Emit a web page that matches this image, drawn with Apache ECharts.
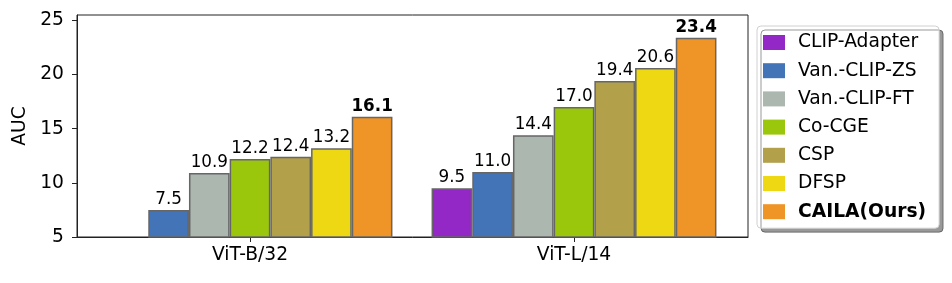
<!DOCTYPE html>
<html><head><meta charset="utf-8">
<script src="https://cdn.jsdelivr.net/npm/echarts@6/dist/echarts.min.js"></script>
<style>html,body{margin:0;padding:0;background:#fff}#c{width:952px;height:283px}</style>
</head><body><div id="c"></div>
<script>
const categories = ['ViT-B/32', 'ViT-L/14'];
const methods = ['CLIP-Adapter', 'Van.-CLIP-ZS', 'Van.-CLIP-FT', 'Co-CGE', 'CSP', 'DFSP', 'CAILA(Ours)'];
const vitB32 = [null, 7.5, 10.9, 12.2, 12.4, 13.2, 16.1];
const vitL14 = [9.5, 11.0, 14.4, 17.0, 19.4, 20.6, 23.4];
const yTicks = [5, 10, 15, 20, 25];
const colors = ['#9428C7', '#4374B7', '#ABB7AF', '#9AC70B', '#B2A04B', '#EDD813', '#EF9426'];

const FONT = 'DejaVu Sans';
const FS = 18.7;
const chart = echarts.init(document.getElementById('c'), null, {renderer: 'canvas'});
const series = methods.map((m, i) => {
  const bold = m === 'CAILA(Ours)';
  return {
    name: m,
    type: 'bar',
    barWidth: 40.7,
    barGap: '0%',
    data: [[0, vitB32[i]], [1, vitL14[i]]].filter(d => d[1] !== null),
    itemStyle: {color: colors[i], borderColor: '#666', borderWidth: 1.5},
    label: {
      show: true, position: 'top', distance: 2,
      fontFamily: FONT, fontSize: 16.8, color: '#000',
      fontWeight: bold ? 'bold' : 'normal',
      formatter: p => p.value[1].toFixed(1)
    }
  };
});
chart.setOption({
  animation: false,
  textStyle: {fontFamily: FONT},
  grid: {left: 77, right: 204, top: 15, bottom: 46, show: true, borderColor: '#222', borderWidth: 1, backgroundColor: 'transparent'},
  xAxis: {
    type: 'value', min: -0.534, max: 1.537,
    splitLine: {show: false},
    axisLine: {show: true, onZero: false, lineStyle: {color: '#222'}},
    axisTick: {show: true, length: 5, customValues: [0, 1], lineStyle: {color: '#222'}},
    axisLabel: {customValues: [0, 1], margin: 9, fontFamily: FONT, fontSize: FS, color: '#000', formatter: v => categories[Math.round(v)]}
  },
  yAxis: {
    type: 'value', min: 5, max: 25.5,
    name: 'AUC', nameLocation: 'middle', nameGap: 40, nameRotate: 90,
    nameTextStyle: {fontFamily: FONT, fontSize: FS, color: '#000'},
    splitLine: {show: false},
    axisLine: {show: true, onZero: false, lineStyle: {color: '#222'}},
    axisTick: {show: true, length: 5, customValues: yTicks, lineStyle: {color: '#222'}},
    axisLabel: {customValues: yTicks, margin: 13, fontFamily: FONT, fontSize: FS, color: '#000'}
  },
  legend: {
    orient: 'vertical', left: 757, top: 26,
    data: methods,
    itemWidth: 22, itemHeight: 15, itemGap: 9.2,
    padding: [7, 13, 7, 6],
    icon: 'rect',
    backgroundColor: '#fff', borderColor: '#d0d0d0', borderWidth: 1, borderRadius: 4,
    shadowColor: 'rgba(0,0,0,0.4)', shadowOffsetX: 4, shadowOffsetY: 4, shadowBlur: 0,
    itemStyle: {borderWidth: 0},
    textStyle: {fontFamily: FONT, fontSize: FS, color: '#000', lineHeight: 18, padding: [0, 0, 0, 8],
      rich: {b: {fontFamily: FONT, fontSize: FS, fontWeight: 'bold', color: '#000', lineHeight: 18}}},
    formatter: n => n === 'CAILA(Ours)' ? '{b|' + n + '}' : n
  },
  series: series
});
</script></body></html>
